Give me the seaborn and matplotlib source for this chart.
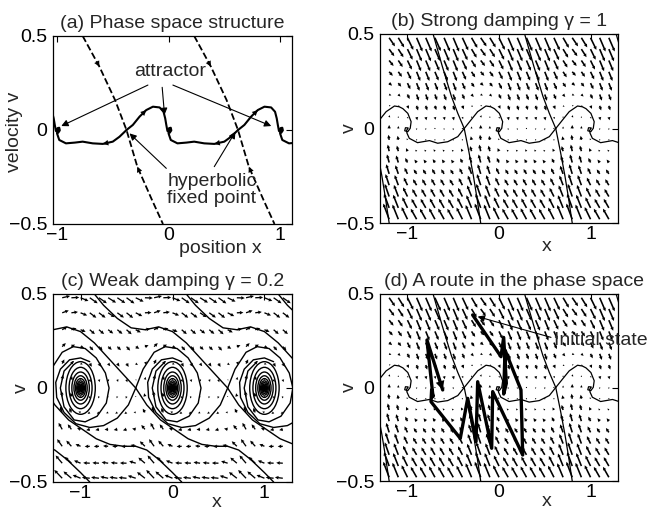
import numpy as np
import matplotlib
matplotlib.use("Agg")
import matplotlib.pyplot as plt
import seaborn as sns
from matplotlib.patches import Ellipse

sns.set_theme(style="white")
plt.rcParams["font.family"] = ["Liberation Sans", "DejaVu Sans"]
plt.rcParams["axes.unicode_minus"] = True

# ---------------- data ----------------
x_ticks = [-1, 0, 1]
x_tick_labels = ["\u22121", "0", "1"]
v_ticks = [-0.5, 0, 0.5]
v_tick_labels = ["\u22120.5", "0", "0.5"]

# normalised potential force sampled at x mod 1 = 0.0, 0.1, ..., 0.9
force_profile = [0.00, -0.46, -0.45, -0.34, -0.42, -0.49, -0.13, 0.58, 1.00, 0.71]

# panel (a): stable manifold (dashed) and unstable manifold arcs (solid)
a_stable_x = [-0.77, -0.62, -0.48, -0.377, -0.28, -0.15, -0.05]
a_stable_v = [0.50, 0.337, 0.16, 0.0, -0.195, -0.37, -0.50]
a_upper_x = [-0.377, -0.32, -0.26, -0.20, -0.14, -0.08, -0.045, -0.03, -0.02, -0.01, 0.01, 0.025, 0.02, 0.005, 0.005]
a_upper_v = [0.0, 0.027, 0.071, 0.106, 0.124, 0.12, 0.097, 0.062, 0.027, -0.005, -0.015, -0.002, 0.012, 0.01, 0.0]
a_lower_x = [-0.377, -0.44, -0.50, -0.59, -0.68, -0.77, -0.84, -0.92, -0.98, -1.0, -0.99]
a_lower_v = [0.0, -0.036, -0.062, -0.074, -0.071, -0.062, -0.067, -0.071, -0.053, -0.018, 0.0]
a_stable_offsets = [0, 1]
a_upper_offsets = [-1, 0, 1]
a_lower_offsets = [0, 1, 2]

# panels (b),(d): strong damping
b_gamma = 1.0
b_force_amp = 0.14
b_stable_x = [-0.72, -0.62, -0.52, -0.45, -0.38, -0.33, -0.28, -0.24, -0.20]
b_stable_v = [0.50, 0.33, 0.17, 0.08, 0.0, -0.12, -0.25, -0.37, -0.50]
b_upper_x = [-0.38, -0.306, -0.233, -0.142, -0.09, -0.05, 0.004, 0.04, 0.03, 0.003, -0.03, -0.022, 0.007]
b_upper_v = [0.0, 0.045, 0.089, 0.119, 0.115, 0.105, 0.08, 0.036, 0.001, -0.017, -0.012, 0.004, 0.003]
b_lower_x = [-0.38, -0.45, -0.56, -0.67, -0.76, -0.89, -0.98, -1.005, -1.01, -0.995]
b_lower_v = [0.0, -0.043, -0.07, -0.078, -0.064, -0.075, -0.052, -0.025, -0.01, 0.0]
b_stable_offsets = [-1, 0, 1, 2]
b_upper_offsets = [-1, 0, 1]
b_lower_offsets = [0, 1, 2]

# panel (c): weak damping
c_gamma = 0.2
c_force_amp = 0.15
c_stable_up_dx = [-1.45, -1.35, -1.2, -1.05, -0.9, -0.75, -0.6, -0.45, -0.3, -0.15, 0.0]
c_stable_up_v = [0.50, 0.44, 0.37, 0.32, 0.31, 0.325, 0.30, 0.24, 0.16, 0.08, 0.0]
c_stable_dn_dx = [0.0, 0.12, 0.27, 0.42, 0.57, 0.72, 0.87, 1.0, 1.12, 1.25, 1.4, 1.5]
c_stable_dn_v = [0.0, -0.09, -0.17, -0.22, -0.27, -0.30, -0.31, -0.31, -0.33, -0.38, -0.45, -0.50]
c_unst_up_dx = [0.0, 0.08, 0.2, 0.32, 0.45, 0.57, 0.67, 0.71, 0.68, 0.58, 0.45, 0.33, 0.22, 0.18, 0.22, 0.32]
c_unst_up_v = [0.0, 0.1, 0.19, 0.22, 0.21, 0.16, 0.08, 0.0, -0.08, -0.15, -0.18, -0.17, -0.1, 0.0, 0.09, 0.14]
c_unst_dn_dx = [0.0, -0.08, -0.2, -0.35, -0.5, -0.65, -0.78, -0.86, -0.87, -0.82, -0.72, -0.6, -0.5]
c_unst_dn_v = [0.0, -0.09, -0.16, -0.2, -0.21, -0.19, -0.13, -0.05, 0.03, 0.1, 0.15, 0.16, 0.14]
c_saddles = [-2.4, -1.4, -0.4, 0.6, 1.6, 2.6]
c_attractors = [-1, 0, 1]
c_ring_rx = [0.16, 0.125, 0.095, 0.072, 0.055, 0.042, 0.032, 0.024, 0.017, 0.011, 0.006]
c_ring_ry = [0.14, 0.11, 0.085, 0.065, 0.05, 0.038, 0.029, 0.021, 0.015, 0.01, 0.005]

# panel (d): the route
d_route_x = [-0.288, 0.022, 0.051, 0.080, 0.051, 0.066, 0.240, 0.259, -0.069, -0.080, -0.233, -0.251,
             -0.342, -0.423, -0.743, -0.736, -0.721, -0.787, -0.615]
d_route_v = [0.388, 0.165, 0.268, 0.022, -0.035, 0.20, -0.013, -0.361, -0.022, -0.325, 0.031, -0.29,
             -0.058, -0.272, -0.076, -0.013, -0.049, 0.254, -0.013]

# ---------------- figure ----------------
W, H = 651, 512
fig = plt.figure(figsize=(W / 100, H / 100), dpi=100)
fig.patch.set_facecolor("white")


def make_ax(l, t, r, b):
    return fig.add_axes([l / W, 1 - b / H, (r - l) / W, (b - t) / H])


ax_a = make_ax(53, 36, 292, 224)
ax_b = make_ax(380, 34, 618, 223)
ax_c = make_ax(53, 294, 292, 482)
ax_d = make_ax(380, 294, 618, 481)

FS = 14


def style(ax, xlim):
    ax.set_xlim(*xlim)
    ax.set_ylim(-0.5, 0.5)
    ax.set_xticks(x_ticks)
    ax.set_xticklabels(x_tick_labels)
    ax.set_yticks(v_ticks)
    ax.set_yticklabels(v_tick_labels)
    ax.tick_params(direction="in", top=True, right=True, length=4, width=0.8,
                   labelsize=FS, colors="black")
    ax.tick_params(axis="x", pad=2)
    ax.tick_params(axis="y", pad=4)
    for s in ax.spines.values():
        s.set_color("black")
        s.set_linewidth(0.9)
    ax.set_facecolor("white")


def line(ax, xs, vs, lw, ls="-"):
    sns.lineplot(x=list(xs), y=list(vs), sort=False, estimator=None, color="black",
                 linewidth=lw, linestyle=ls, ax=ax, legend=False)


def field(ax, gamma, amp, rows, cols, scale, width, hw):
    X, V = np.meshgrid(cols, rows)
    idx = np.round(X * 10).astype(int) % 10
    F = np.asarray(force_profile)[idx]
    U = V
    Wv = -gamma * V + amp * F
    ax.quiver(X, V, U, Wv, angles="xy", scale_units="xy", scale=scale, color="black",
              width=width, headwidth=hw, headlength=hw, headaxislength=hw * 0.9, pivot="tail",
              minlength=0.8)


def head(ax, xs, vs, i, ms=11):
    ax.annotate("", xy=(xs[i + 1], vs[i + 1]), xytext=(xs[i], vs[i]),
                arrowprops=dict(arrowstyle="-|>", color="black", lw=0.01,
                                mutation_scale=ms, shrinkA=0, shrinkB=0))


def pointer(ax, start, end):
    ax.annotate("", xy=end, xytext=start,
                arrowprops=dict(arrowstyle="-|>", color="black", lw=0.8,
                                mutation_scale=10, shrinkA=0, shrinkB=0))


# ---- (a)
ax = ax_a
style(ax, (-1.036, 1.107))
for o in a_stable_offsets:
    xs = [x + o for x in a_stable_x]
    line(ax, xs, a_stable_v, 1.3, "--")
    head(ax, xs, a_stable_v, 0, 10)
    head(ax, xs[::-1], a_stable_v[::-1], 1, 10)
for o in a_upper_offsets:
    xs = [x + o for x in a_upper_x]
    line(ax, xs, a_upper_v, 1.5)
    head(ax, xs, a_upper_v, 2, 10)
for o in a_lower_offsets:
    xs = [x + o for x in a_lower_x]
    line(ax, xs, a_lower_v, 1.5)
    head(ax, xs, a_lower_v, 2, 10)
ax.text(0.01, 0.31, "attractor", fontsize=FS, ha="center", va="center")
pointer(ax, (-0.185, 0.239), (-0.962, 0.021))
pointer(ax, (-0.057, 0.227), (-0.036, 0.08))
pointer(ax, (0.039, 0.239), (0.921, 0.021))
ax.text(-0.01, -0.32, "hyperbolic\nfixed point", fontsize=FS, ha="left", va="center",
        linespacing=1.0)
pointer(ax, (-0.02, -0.204), (-0.35, -0.018))
pointer(ax, (0.41, -0.195), (0.60, -0.009))
ax.set_title("(a) Phase space structure", fontsize=FS, pad=6)
ax.set_xlabel("position x", fontsize=FS)
ax.xaxis.set_label_coords(0.70, -0.128)
ax.xaxis.label.set_va("center")
ax.set_ylabel("velocity v", fontsize=FS)
ax.yaxis.set_label_coords(-0.163, 0.49)
ax.yaxis.label.set_va("center")

# ---- (b) and (d)
b_rows = np.arange(-0.48, 0.49, 0.06)
b_cols = np.arange(-1.2, 1.21, 0.1)
for ax, title in [(ax_b, "(b) Strong damping \u03b3 = 1"), (ax_d, "(d) A route in the phase space")]:
    style(ax, (-1.3, 1.3))
    field(ax, b_gamma, b_force_amp, b_rows, b_cols, 7.5, 0.0068, 2.2)
    for o in b_stable_offsets:
        line(ax, [x + o for x in b_stable_x], b_stable_v, 0.9)
    for o in b_upper_offsets:
        line(ax, [x + o for x in b_upper_x], b_upper_v, 0.9)
    for o in b_lower_offsets:
        line(ax, [x + o for x in b_lower_x], b_lower_v, 0.9)
    ax.set_title(title, fontsize=FS, pad=6)
    ax.set_xlabel("x", fontsize=FS)
    ax.set_ylabel("v", fontsize=FS)
    ax.yaxis.set_label_coords(-0.13, 0.5)
    ax.yaxis.label.set_va("center")
    ax.xaxis.label.set_va("center")
ax_b.xaxis.set_label_coords(0.70, -0.125)
ax_d.xaxis.set_label_coords(0.70, -0.11)
ax_d.title.set_x(0.563)

# route
ax = ax_d
line(ax, d_route_x, d_route_v, 2.4)
ax.annotate("", xy=(d_route_x[-1], d_route_v[-1]), xytext=(d_route_x[-2], d_route_v[-2]),
            arrowprops=dict(arrowstyle="-|>", color="black", lw=0.01, mutation_scale=16,
                            shrinkA=0, shrinkB=0))
ax.text(0.60, 0.254, "Initial state", fontsize=FS, ha="left", va="center", clip_on=False)
pointer(ax, (0.568, 0.268), (-0.233, 0.379))

# ---- (c)
ax = ax_c
style(ax, (-1.3, 1.3))
c_rows = np.array([-0.48, -0.40, -0.31, -0.22, -0.13, -0.045, 0.045, 0.13, 0.22, 0.31, 0.40, 0.48])
c_cols = np.arange(-1.2, 1.21, 0.1)
field(ax, c_gamma, c_force_amp, c_rows, c_cols, 5.6, 0.0055, 2.8)
for s in c_saddles:
    line(ax, [s + d for d in c_stable_up_dx], c_stable_up_v, 1.0)
    line(ax, [s + d for d in c_stable_dn_dx], c_stable_dn_v, 1.0)
    line(ax, [s + d for d in c_unst_up_dx], c_unst_up_v, 1.0)
    line(ax, [s + d for d in c_unst_dn_dx], c_unst_dn_v, 1.0)
for a in c_attractors:
    for rx, ry in zip(c_ring_rx, c_ring_ry):
        ax.add_patch(Ellipse((a, 0), 2 * rx, 2 * ry, fill=False, edgecolor="black", lw=1.0))
ax.set_title("(c) Weak damping \u03b3 = 0.2", fontsize=FS, pad=6)
ax.set_xlabel("x", fontsize=FS)
ax.xaxis.set_label_coords(0.686, -0.11)
ax.xaxis.label.set_va("center")
ax.set_ylabel("v", fontsize=FS)
ax.yaxis.set_label_coords(-0.13, 0.5)
ax.yaxis.label.set_va("center")

fig.savefig("out.png", dpi=100, facecolor="white")
